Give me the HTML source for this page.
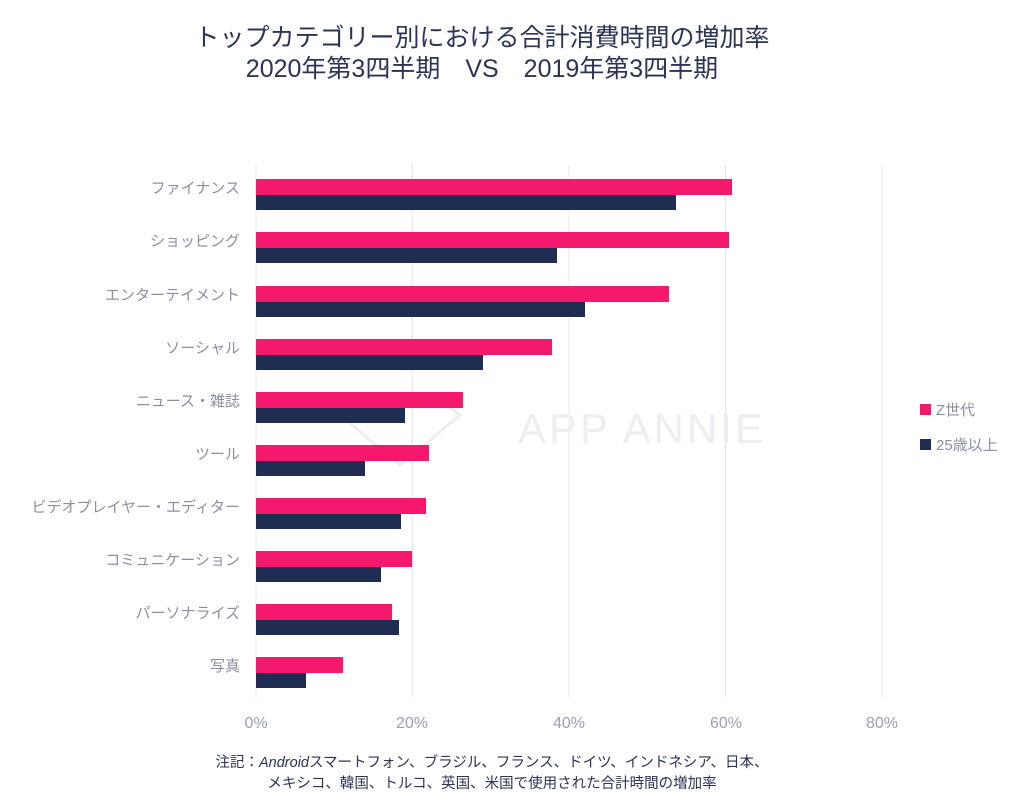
<!DOCTYPE html>
<html><head><meta charset="utf-8"><style>
body{margin:0;background:#fff;}
svg text{font-family:"Liberation Sans","Noto Sans CJK JP",sans-serif;}
</style></head><body>
<svg width="1022" height="800" xmlns="http://www.w3.org/2000/svg">
<rect width="1022" height="800" fill="#fff"/>
<text x="482" y="46" font-size="25" fill="#2b3454" text-anchor="middle">トップカテゴリー別における合計消費時間の増加率</text>
<text x="482" y="77" font-size="25" fill="#2b3454" text-anchor="middle">2020年第3四半期　VS　2019年第3四半期</text>
<g stroke="#e6e8ec" stroke-width="1">
<line x1="256" y1="165" x2="256" y2="697"/>
<line x1="412.5" y1="165" x2="412.5" y2="697"/>
<line x1="569" y1="165" x2="569" y2="697"/>
<line x1="725.5" y1="165" x2="725.5" y2="697"/>
<line x1="882" y1="165" x2="882" y2="697"/>
</g>
<polygon points="360,400 440,400 460,415 400,465 340,415" fill="none" stroke="#eceef1" stroke-width="3"/>
<text x="642" y="443" font-size="42" fill="#eceef1" text-anchor="middle" letter-spacing="3">APP ANNIE</text>
<g font-size="16" fill="#9aa0b2" text-anchor="middle">
<text x="256" y="728">0%</text><text x="412" y="728">20%</text><text x="569" y="728">40%</text><text x="726" y="728">60%</text><text x="882" y="728">80%</text>
</g>
<g font-size="15" fill="#8a90a2" text-anchor="end">
<text x="240" y="193">ファイナンス</text>
<text x="240" y="246">ショッピング</text>
<text x="240" y="300">エンターテイメント</text>
<text x="240" y="353">ソーシャル</text>
<text x="240" y="406">ニュース・雑誌</text>
<text x="240" y="459">ツール</text>
<text x="240" y="512">ビデオプレイヤー・エディター</text>
<text x="240" y="565">コミュニケーション</text>
<text x="240" y="618">パーソナライズ</text>
<text x="240" y="671">写真</text>
</g>
<g fill="#f5196e">
<rect x="256" y="179" width="476" height="16"/>
<rect x="256" y="232" width="473" height="16"/>
<rect x="256" y="286" width="413" height="16"/>
<rect x="256" y="339" width="296" height="16"/>
<rect x="256" y="392" width="207" height="16"/>
<rect x="256" y="445" width="173" height="16"/>
<rect x="256" y="498" width="170" height="16"/>
<rect x="256" y="551" width="156" height="16"/>
<rect x="256" y="604" width="136" height="16"/>
<rect x="256" y="657" width="87" height="16"/>
</g>
<g fill="#1f2d52">
<rect x="256" y="195" width="420" height="15"/>
<rect x="256" y="248" width="301" height="15"/>
<rect x="256" y="302" width="329" height="15"/>
<rect x="256" y="355" width="227" height="15"/>
<rect x="256" y="408" width="149" height="15"/>
<rect x="256" y="461" width="109" height="15"/>
<rect x="256" y="514" width="145" height="15"/>
<rect x="256" y="567" width="125" height="15"/>
<rect x="256" y="620" width="143" height="15"/>
<rect x="256" y="673" width="50" height="15"/>
</g>
<rect x="920" y="404" width="11" height="11" fill="#f5196e"/>
<text x="936" y="415" font-size="15" fill="#8a90a2">Z世代</text>
<rect x="920" y="439" width="11" height="11" fill="#1f2d52"/>
<text x="936" y="450" font-size="15" fill="#8a90a2">25歳以上</text>
<text x="492" y="767" font-size="14.5" fill="#2b3454" text-anchor="middle">注記：<tspan font-style="italic">Android</tspan>スマートフォン、ブラジル、フランス、ドイツ、インドネシア、日本、</text>
<text x="492" y="788" font-size="14.5" fill="#2b3454" text-anchor="middle">メキシコ、韓国、トルコ、英国、米国で使用された合計時間の増加率</text>
</svg>
</body></html>
